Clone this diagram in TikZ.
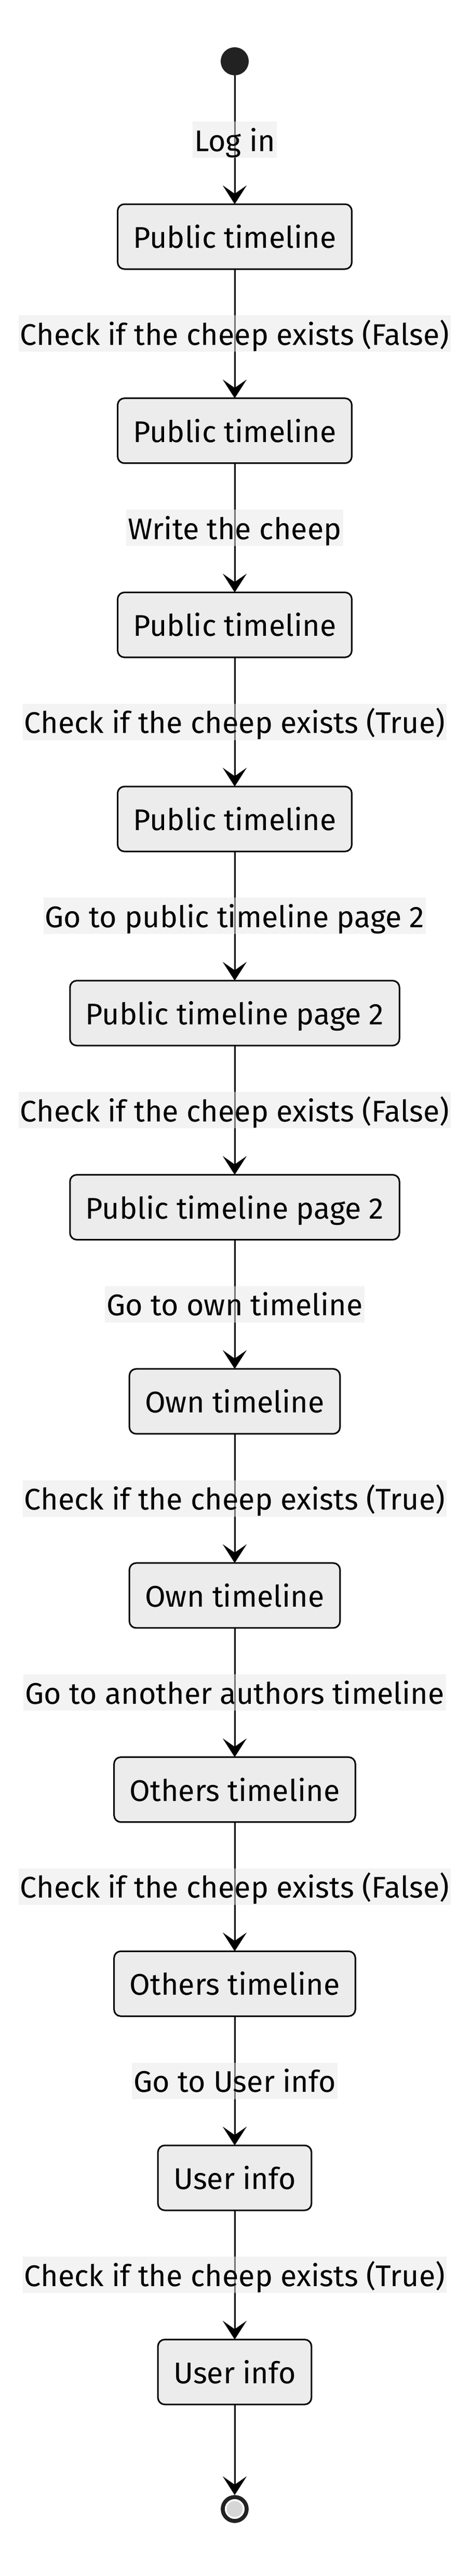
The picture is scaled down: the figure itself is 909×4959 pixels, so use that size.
\documentclass[tikz,border=0pt]{standalone}
\usepackage{fontspec}
\setmainfont{Fira Sans}
\usetikzlibrary{arrows.meta,calc}
\definecolor{boxfill}{HTML}{ECECEC}
\definecolor{lblfill}{HTML}{E8E8E8}
\definecolor{darkdot}{HTML}{222222}
\definecolor{endfill}{HTML}{D6D6D6}
\newcommand{\bigfont}{\fontsize{57.5}{70}\selectfont}
\begin{document}
\begin{tikzpicture}[x=1pt,y=-1pt,
  statebox/.style={draw=black, line width=3pt, fill=boxfill, rounded corners=13pt,
    minimum height=125pt, inner xsep=30pt, inner ysep=0pt, outer sep=0pt,
    font=\bigfont, text height=57pt, text depth=13pt},
  edgelabel/.style={fill=lblfill, fill opacity=0.5, text opacity=1,
    inner xsep=3pt, inner ysep=0pt, font=\bigfont, text height=57pt, text depth=13pt},
  flow/.style={draw=black, line width=3pt,
    -{Stealth[length=36pt,width=46pt,inset=16pt]}}]
\useasboundingbox (0,0) rectangle (909,4959);
\fill[white] (0,0) rectangle (909,4959);

% start / end
\node[circle, fill=darkdot, minimum size=54pt, inner sep=0pt] (start) at (452,118) {};
\node[circle, draw=darkdot, line width=7.7pt, fill=white, minimum size=46pt, inner sep=0pt] (end) at (452,4830) {};
\node[circle, fill=endfill, minimum size=31pt, inner sep=0pt] (endin) at (end.center) {};

% states
\node[statebox] (b1)  at (452,455.5)  {Public timeline};
\node[statebox] (b2)  at (452,829.2)  {Public timeline};
\node[statebox] (b3)  at (452,1202.9) {Public timeline};
\node[statebox] (b4)  at (452,1576.6) {Public timeline};
\node[statebox] (b5)  at (452,1950.3) {Public timeline page 2};
\node[statebox] (b6)  at (452,2324.0) {Public timeline page 2};
\node[statebox] (b7)  at (452,2697.7) {Own timeline};
\node[statebox] (b8)  at (452,3071.4) {Own timeline};
\node[statebox] (b9)  at (452,3445.1) {Others timeline};
\node[statebox] (b10) at (452,3818.8) {Others timeline};
\node[statebox] (b11) at (452,4192.5) {User info};
\node[statebox] (b12) at (452,4566.2) {User info};

% transitions
\draw[flow] (start) -- (b1);
\draw[flow] (b1) -- (b2);
\draw[flow] (b2) -- (b3);
\draw[flow] (b3) -- (b4);
\draw[flow] (b4) -- (b5);
\draw[flow] (b5) -- (b6);
\draw[flow] (b6) -- (b7);
\draw[flow] (b7) -- (b8);
\draw[flow] (b8) -- (b9);
\draw[flow] (b9) -- (b10);
\draw[flow] (b10) -- (b11);
\draw[flow] (b11) -- (b12);
\draw[flow] (b12) -- (end);

% labels
\node[edgelabel] (l1)  at ($(start.south)!0.5!(b1.north)$) {Log in};
\node[edgelabel] (l2)  at ($(b1.south)!0.5!(b2.north)$)   {Check if the cheep exists (False)};
\node[edgelabel] (l3)  at ($(b2.south)!0.5!(b3.north)$)   {Write the cheep};
\node[edgelabel] (l4)  at ($(b3.south)!0.5!(b4.north)$)   {Check if the cheep exists (True)};
\node[edgelabel] (l5)  at ($(b4.south)!0.5!(b5.north)$)   {Go to public timeline page 2};
\node[edgelabel] (l6)  at ($(b5.south)!0.5!(b6.north)$)   {Check if the cheep exists (False)};
\node[edgelabel] (l7)  at ($(b6.south)!0.5!(b7.north)$)   {Go to own timeline};
\node[edgelabel] (l8)  at ($(b7.south)!0.5!(b8.north)$)   {Check if the cheep exists (True)};
\node[edgelabel] (l9)  at ($(b8.south)!0.5!(b9.north)$)   {Go to another authors timeline};
\node[edgelabel] (l10) at ($(b9.south)!0.5!(b10.north)$)  {Check if the cheep exists (False)};
\node[edgelabel] (l11) at ($(b10.south)!0.5!(b11.north)$) {Go to User info};
\node[edgelabel] (l12) at ($(b11.south)!0.5!(b12.north)$) {Check if the cheep exists (True)};
\end{tikzpicture}
\end{document}
